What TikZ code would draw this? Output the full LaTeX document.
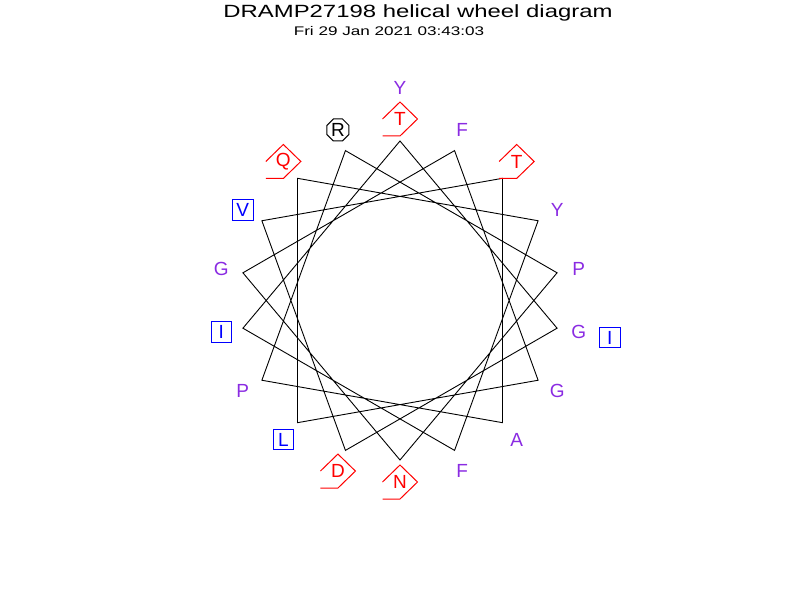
\documentclass[tikz,border=0pt]{standalone}
\usepackage{fontspec}
\setmainfont{Liberation Sans}
\usetikzlibrary{shapes.geometric}

\definecolor{wheelink}{HTML}{000000}
\definecolor{wheelviolet}{HTML}{8A2BE2}
\definecolor{wheelblue}{HTML}{0000FF}
\definecolor{wheelred}{HTML}{FF0000}

\begin{document}
\begin{tikzpicture}[
  x=1pt,y=1pt,
  font=\fontsize{19}{20}\selectfont,
  title/.style={font=\fontsize{17.7}{19}\selectfont,inner sep=0pt},
  stamp/.style={font=\fontsize{12.5}{14}\selectfont,inner sep=0pt},
  plain/.style={text=wheelviolet,inner sep=0pt},
  sq/.style={draw=wheelblue,text=wheelblue,line width=1pt,
             minimum size=20.5pt,inner sep=0pt},
  oct/.style={draw=wheelink,text=wheelink,line width=1pt,regular polygon,
              regular polygon sides=8,minimum size=23.8pt,inner sep=0pt},
  pent/.style={text=wheelred,inner sep=0pt},
  pentline/.style={draw=wheelred,line width=1pt},
  spoke/.style={draw=wheelink,line width=.9pt,line join=miter}
]
  \path[use as bounding box] (-400,-299.5) rectangle (400,300.5);
  \node[title] (head) at (18,288)
    {\scalebox{1.35}[1]{DRAMP27198 helical wheel diagram}};
  \node[stamp] (date) at (-11,269.3)
    {\scalebox{1.37}[1]{Fri 29 Jan 2021 03:43:03}};

  % residues placed every 100 degrees, clockwise from the top
  \foreach \i/\aa/\kind in {1/T/pent,2/G/plain,3/D/pent,4/V/sq,5/T/pent,
      6/A/plain,7/P/plain,8/R/oct,9/P/plain,10/N/pent,11/G/plain,12/F/plain,
      13/G/plain,14/L/sq,15/Q/pent,16/Y/plain,17/F/plain,18/I/sq,
      19/Y/plain,20/I/sq}{
    \pgfmathsetmacro{\ang}{90-100*(\i-1)}
    \pgfmathsetmacro{\rad}{\i>18 ? 213 : 181.5}
    \coordinate (v\i) at (\ang:159.5);
    \node[\kind] (r\i) at (\ang:\rad) {\aa};
  }
  \draw[spoke] (v1) \foreach \i in {2,...,20}{ -- (v\i)};

  % open pentagon marks of the polar residues
  \foreach \n in {1,3,5,10,15}{
    \draw[pentline] ([xshift=-17.5pt]r\n.center) -- ([yshift=17pt]r\n.center)
      -- ([xshift=17.5pt]r\n.center) -- ([yshift=-17pt]r\n.center)
      -- ([shift={(-17.5pt,-17pt)}]r\n.center);
  }
\end{tikzpicture}
\end{document}
